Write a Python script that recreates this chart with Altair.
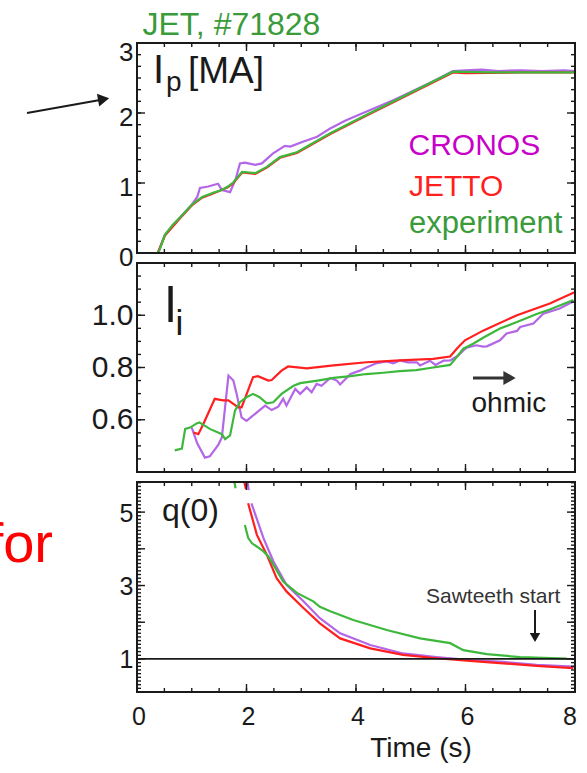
import altair as alt
import pandas as pd

FONT = "Liberation Sans"
INK = "#1a1a1a"
CRONOS_LINE = "#b366e6"
CRONOS_TEXT = "#c800c8"
JETTO_LINE = "#ff1f1f"
EXP_LINE = "#3db83d"
EXP_TEXT = "#3b9b3b"

# ---------------- time axis ----------------
T_DOMAIN = [0, 8]
X_RANGE = [137, 575]
time_labels = [0, 2, 4, 6, 8]
time_ticks_major = [0, 2, 4, 6, 8]
time_ticks_minor = [0, 0.5, 1, 1.5, 2, 2.5, 3, 3.5, 4, 4.5, 5, 5.5, 6, 6.5, 7, 7.5, 8]

# ---------------- panel 1: plasma current Ip [MA] ----------------
IP_DOMAIN, IP_RANGE = [0, 3], [253, 43]
ip_labels = [0, 1, 2, 3]
ip_ticks_major = [0, 1, 2, 3]
ip_ticks_minor = [i / 6 for i in range(19)]

ip_cronos_t = [0, 0.38, 0.51, 0.79, 1.0, 1.10, 1.15, 1.30, 1.48, 1.55, 1.70, 1.80, 1.88, 1.97,
               2.16, 2.28, 2.48, 2.70, 2.80, 3.03, 3.29, 3.53, 3.80, 4.13, 4.40, 4.70, 5.0, 5.40,
               5.77, 6.0, 6.3, 6.6, 7.0, 7.4, 7.8, 8.0]
ip_cronos = [0, 0, 0.26, 0.51, 0.69, 0.80, 0.93, 0.95, 0.99, 0.90, 0.87, 1.05, 1.28, 1.29,
             1.26, 1.28, 1.42, 1.53, 1.52, 1.59, 1.66, 1.78, 1.89, 2.00, 2.09, 2.19, 2.30, 2.45,
             2.60, 2.61, 2.62, 2.60, 2.61, 2.60, 2.61, 2.60]

ip_jetto_t = [0, 0.38, 0.51, 0.79, 1.0, 1.19, 1.39, 1.66, 1.76, 1.92, 2.16, 2.37, 2.61, 2.92,
              3.53, 4.13, 5.0, 5.77, 6.0, 7.0, 8.0]
ip_jetto = [0, 0, 0.25, 0.50, 0.68, 0.79, 0.85, 0.94, 1.00, 1.15, 1.13, 1.22, 1.36, 1.43,
            1.70, 1.94, 2.28, 2.58, 2.57, 2.58, 2.58]

ip_exp_t = [0, 0.38, 0.41, 0.51, 0.65, 0.79, 1.0, 1.19, 1.39, 1.55, 1.66, 1.76, 1.92, 2.05,
            2.16, 2.37, 2.61, 2.92, 3.53, 4.13, 5.0, 5.77, 6.5, 7.0, 8.0]
ip_exp = [0, 0, 0.04, 0.26, 0.40, 0.51, 0.69, 0.80, 0.86, 0.90, 0.95, 1.01, 1.16, 1.15,
          1.14, 1.23, 1.37, 1.44, 1.71, 1.95, 2.29, 2.59, 2.58, 2.58, 2.58]

# ---------------- panel 2: internal inductance li ----------------
LI_DOMAIN, LI_RANGE = [0.4, 1.2], [472, 263]
li_labels = [0.6, 0.8, 1.0]
li_ticks_major = [0.6, 0.8, 1.0]
li_ticks_minor = [round(0.4 + 0.05 * i, 2) for i in range(17)]

li_cronos_t = [1.00, 1.10, 1.24, 1.33, 1.49, 1.55, 1.67, 1.76, 1.82, 1.91, 2.00, 2.19, 2.34,
               2.46, 2.58, 2.67, 2.73, 2.89, 2.98, 3.10, 3.19, 3.28, 3.37, 3.53, 3.65, 3.71,
               3.90, 4.07, 4.19, 4.38, 4.56, 4.68, 4.80, 4.95, 5.11, 5.17, 5.35, 5.45, 5.60,
               5.72, 5.87, 5.96, 6.02, 6.20, 6.32, 6.39, 6.63, 6.75, 6.94, 7.00, 7.24, 7.42,
               7.72, 7.95, 8.00]
li_cronos = [0.57, 0.51, 0.455, 0.46, 0.506, 0.532, 0.769, 0.75, 0.699, 0.609, 0.596, 0.628,
             0.654, 0.637, 0.65, 0.68, 0.654, 0.718, 0.699, 0.724, 0.705, 0.737, 0.73, 0.76,
             0.75, 0.735, 0.775, 0.788, 0.80, 0.817, 0.823, 0.816, 0.827, 0.82, 0.82, 0.808,
             0.826, 0.81, 0.826, 0.827, 0.846, 0.865, 0.876, 0.885, 0.88, 0.881, 0.904, 0.93,
             0.94, 0.955, 0.968, 1.006, 1.026, 1.051, 1.052]

li_jetto_t = [1.03, 1.12, 1.21, 1.42, 1.57, 1.67, 1.85, 1.91, 2.12, 2.21, 2.40, 2.46, 2.64,
              2.76, 3.10, 3.59, 4.19, 4.80, 5.41, 5.72, 5.84, 5.99, 6.33, 6.94, 7.54, 7.97, 8.0]
li_jetto = [0.551, 0.545, 0.583, 0.68, 0.674, 0.674, 0.647, 0.647, 0.763, 0.767, 0.75, 0.752,
            0.788, 0.804, 0.797, 0.808, 0.82, 0.827, 0.833, 0.842, 0.872, 0.904, 0.942, 1.0,
            1.045, 1.086, 1.088]

li_exp_t = [0.69, 0.82, 0.88, 0.97, 1.09, 1.14, 1.33, 1.55, 1.61, 1.70, 1.79, 1.88, 2.0, 2.12,
            2.24, 2.37, 2.49, 2.64, 2.86, 2.98, 3.3, 3.59, 3.9, 4.19, 4.5, 4.80, 5.1, 5.41,
            5.72, 5.84, 5.96, 6.14, 6.33, 6.63, 6.94, 7.30, 7.54, 7.97]
li_exp = [0.483, 0.49, 0.565, 0.57, 0.586, 0.59, 0.565, 0.545, 0.526, 0.54, 0.635, 0.667,
          0.686, 0.699, 0.686, 0.663, 0.667, 0.699, 0.73, 0.74, 0.75, 0.76, 0.767, 0.775,
          0.78, 0.786, 0.79, 0.80, 0.81, 0.84, 0.872, 0.891, 0.915, 0.949, 0.974, 1.005,
          1.022, 1.058]

# ---------------- panel 3: central safety factor q(0) ----------------
Q_DOMAIN, Q_RANGE = [0.1, 5.82], [692, 482]
q_labels = [1, 3, 5]
q_ticks_major = [1, 2, 3, 4, 5]
q_ticks_minor = [round(0.1 + 0.1 * i, 1) for i in range(58)]
q_reference = [1.0]

q_cronos_seg = [0, 0] + [1] * 15
q_cronos_t = [2.02, 2.04, 2.09, 2.31, 2.49, 2.73, 3.04, 3.34, 3.71, 4.26, 4.86, 5.47, 6.08,
              6.69, 7.30, 7.97, 8.0]
q_cronos = [5.82, 5.60, 5.24, 4.29, 3.66, 3.02, 2.57, 2.11, 1.70, 1.38, 1.15, 1.05, 0.97,
            0.92, 0.84, 0.79, 0.785]

q_jetto_seg = [0, 0] + [1] * 15
q_jetto_t = [1.96, 1.99, 2.03, 2.19, 2.37, 2.55, 2.73, 3.04, 3.34, 3.71, 4.26, 4.86, 5.47,
             6.08, 6.69, 7.30, 7.97]
q_jetto = [5.82, 5.62, 5.24, 4.38, 3.84, 3.20, 2.84, 2.39, 1.97, 1.56, 1.29, 1.11, 1.02,
           0.95, 0.88, 0.81, 0.75]

q_exp_seg = [0, 0] + [1] * 20
q_exp_t = [1.78, 1.80, 1.97, 2.03, 2.10, 2.20, 2.31, 2.40, 2.49, 2.67, 2.92, 3.22, 3.34,
           3.53, 3.95, 4.56, 5.17, 5.72, 5.96, 6.39, 7.0, 7.85]
q_exp = [5.82, 5.65, 4.65, 4.30, 4.15, 4.05, 3.93, 3.79, 3.57, 3.11, 2.80, 2.57, 2.42,
         2.30, 2.06, 1.79, 1.56, 1.43, 1.24, 1.13, 1.05, 1.01]


def time_scale():
    return alt.Scale(domain=T_DOMAIN, range=X_RANGE)


def value_scale(domain, rng):
    return alt.Scale(domain=domain, range=rng)


def curve(t, v, color, domain, rng, seg=None):
    df = pd.DataFrame({"t": t, "v": v})
    enc = dict(
        x=alt.X("t:Q", scale=time_scale(), axis=None),
        y=alt.Y("v:Q", scale=value_scale(domain, rng), axis=None),
    )
    if seg is not None:
        df["seg"] = seg
        enc["detail"] = alt.Detail("seg:N")
    return alt.Chart(df).mark_line(color=color, strokeWidth=2.2).encode(**enc)


def frame(domain, rng, yaxis):
    df = pd.DataFrame({"t0": [T_DOMAIN[0]], "t1": [T_DOMAIN[1]],
                       "v0": [domain[0]], "v1": [domain[1]]})
    return alt.Chart(df).mark_rect(fillOpacity=0, stroke=INK, strokeWidth=2).encode(
        x=alt.X("t0:Q", scale=time_scale(), axis=None, title=None),
        x2="t1",
        y=alt.Y("v0:Q", scale=value_scale(domain, rng), axis=yaxis, title=None),
        y2="v1",
    )


def time_ticks(values, edge, length):
    # inward ticks on a horizontal frame edge (length > 0 points down)
    return alt.Chart(pd.DataFrame({"t": values})).mark_rule(color=INK, strokeWidth=1.4).encode(
        x=alt.X("t:Q", scale=time_scale(), axis=None),
        y=alt.value(edge),
        y2=alt.value(edge + length),
    )


def value_ticks(values, domain, rng, edge, length):
    # inward ticks on a vertical frame edge (length > 0 points right)
    return alt.Chart(pd.DataFrame({"v": values})).mark_rule(color=INK, strokeWidth=1.4).encode(
        y=alt.Y("v:Q", scale=value_scale(domain, rng), axis=None),
        x=alt.value(edge),
        x2=alt.value(edge + length),
    )


def text(s, x, y, size, color=INK, align="left"):
    return alt.Chart(pd.DataFrame({"s": [s]})).mark_text(
        align=align, baseline="alphabetic", font=FONT, fontSize=size, color=color
    ).encode(text="s:N", x=alt.value(x), y=alt.value(y))


def arrow(x0, y0, x1, y1, hx, hy, shape, angle, size, color=INK, width=2):
    one = pd.DataFrame({"a": [0]})
    shaft = alt.Chart(one).mark_rule(color=color, strokeWidth=width).encode(
        x=alt.value(x0), y=alt.value(y0), x2=alt.value(x1), y2=alt.value(y1))
    head = alt.Chart(one).mark_point(shape=shape, filled=True, size=size, angle=angle,
                                     color=color, opacity=1).encode(
        x=alt.value(hx), y=alt.value(hy))
    return [shaft, head]


def y_axis(values, size, offset, fmt):
    return alt.Axis(values=values, orient="left", offset=-X_RANGE[0], ticks=False, domain=False,
                    grid=False, labelFont=FONT, labelFontSize=size, labelColor=INK,
                    labelPadding=4, labelOverlap=False, labelBaseline="middle",
                    labelOffset=offset, format=fmt)


def panel_ticks(domain, rng, major, minor):
    lo, hi = rng
    return [
        time_ticks(time_ticks_minor, lo, -4), time_ticks(time_ticks_major, lo, -8),
        time_ticks(time_ticks_minor, hi, 4), time_ticks(time_ticks_major, hi, 8),
        value_ticks(minor, domain, rng, X_RANGE[0], 4),
        value_ticks(major, domain, rng, X_RANGE[0], 8),
        value_ticks(minor, domain, rng, X_RANGE[1], -4),
        value_ticks(major, domain, rng, X_RANGE[1], -8),
    ]


def time_tick_labels(test, align, dx):
    return (
        alt.Chart(pd.DataFrame({"t": time_labels}))
        .transform_filter(test)
        .mark_text(font=FONT, fontSize=25, color=INK, baseline="alphabetic", align=align, dx=dx)
        .encode(x=alt.X("t:Q", scale=time_scale(), axis=None),
                y=alt.value(725),
                text=alt.Text("t:Q", format="d"))
    )


layers = []

# panel 1
layers += [
    curve(ip_cronos_t, ip_cronos, CRONOS_LINE, IP_DOMAIN, IP_RANGE),
    curve(ip_jetto_t, ip_jetto, JETTO_LINE, IP_DOMAIN, IP_RANGE),
    curve(ip_exp_t, ip_exp, EXP_LINE, IP_DOMAIN, IP_RANGE),
]
layers += panel_ticks(IP_DOMAIN, IP_RANGE, ip_ticks_major, ip_ticks_minor)
layers.append(frame(IP_DOMAIN, IP_RANGE, y_axis(ip_labels, 26,
              {"condition": {"test": "datum.value == 3", "value": 9}, "value": 4}, "d")))

# panel 2
layers += [
    curve(li_cronos_t, li_cronos, CRONOS_LINE, LI_DOMAIN, LI_RANGE),
    curve(li_jetto_t, li_jetto, JETTO_LINE, LI_DOMAIN, LI_RANGE),
    curve(li_exp_t, li_exp, EXP_LINE, LI_DOMAIN, LI_RANGE),
]
layers += panel_ticks(LI_DOMAIN, LI_RANGE, li_ticks_major, li_ticks_minor)
layers.append(frame(LI_DOMAIN, LI_RANGE, y_axis(li_labels, 30, 0, ".1f")))

# panel 3
layers += [
    curve(q_cronos_t, q_cronos, CRONOS_LINE, Q_DOMAIN, Q_RANGE, q_cronos_seg),
    curve(q_jetto_t, q_jetto, JETTO_LINE, Q_DOMAIN, Q_RANGE, q_jetto_seg),
    curve(q_exp_t, q_exp, EXP_LINE, Q_DOMAIN, Q_RANGE, q_exp_seg),
    alt.Chart(pd.DataFrame({"q": q_reference, "t0": [T_DOMAIN[0]], "t1": [T_DOMAIN[1]]}))
    .mark_rule(color=INK, strokeWidth=1.8)
    .encode(x=alt.X("t0:Q", scale=time_scale(), axis=None), x2="t1",
            y=alt.Y("q:Q", scale=value_scale(Q_DOMAIN, Q_RANGE), axis=None)),
]
layers += panel_ticks(Q_DOMAIN, Q_RANGE, q_ticks_major, q_ticks_minor)
layers.append(frame(Q_DOMAIN, Q_RANGE, y_axis(q_labels, 25, 1, "d")))

# time axis labels
layers += [
    time_tick_labels("datum.t < 8", "center", 2),
    time_tick_labels("datum.t == 8", "right", 2),
]

# titles, panel labels and legend text
layers += [
    text("JET, #71828", 142.5, 35, 32, EXP_TEXT),
    text("I", 153, 83, 40),
    text("p", 166, 91, 28),
    text("[MA]", 188, 83, 37),
    text("CRONOS", 408.5, 155, 30, CRONOS_TEXT),
    text("JETTO", 409, 196, 30, JETTO_LINE),
    text("experiment", 409, 233, 31, EXP_TEXT),
    text("l", 165, 322, 50),
    text("i", 175.5, 335, 35),
    text("ohmic", 471.5, 412, 28),
    text("q(0)", 162, 521, 32),
    text("Sawteeth start", 426, 603, 21, "#333333"),
    text("Time (s)", 421, 757, 28, align="center"),
    text("for", 53, 562, 56, "#ff0000", align="right"),
]

# arrows
layers += arrow(27, 113, 100, 100, 103.6, 99.2, "triangle-right", 349.8, 170)
layers += arrow(473, 378, 505, 378, 509.5, 378, "triangle-right", 0, 200, "#333333", 3)
layers += arrow(535, 610, 535, 634, 535, 637.5, "triangle-down", 0, 110)

chart = (
    alt.layer(*layers)
    .resolve_scale(y="independent")
    .properties(width=587, height=773, background="white", padding=0,
                autosize=alt.AutoSizeParams(type="none"))
    .configure_view(stroke=None)
)

chart.save("out.html", embed_options={"renderer": "svg", "actions": False})
